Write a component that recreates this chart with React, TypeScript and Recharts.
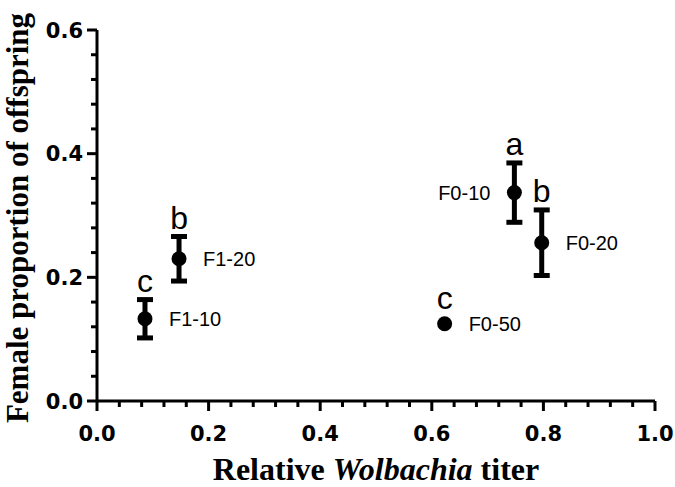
import React from 'react';
import { ScatterChart, Scatter, XAxis, YAxis, ErrorBar, Label } from 'recharts';

const groupNames = ['F1-10', 'F1-20', 'F0-10', 'F0-20', 'F0-50'];
const sigLetters = ['c', 'b', 'a', 'b', 'c'];
const titerValues = [0.086, 0.147, 0.748, 0.797, 0.623];
const femaleProportion = [0.133, 0.23, 0.337, 0.256, 0.125];
const errorValues: (number | null)[] = [0.031, 0.036, 0.048, 0.053, null];
const labelSide = ['right', 'right', 'left', 'right', 'right'];

const xMajorTicks = [0, 0.2, 0.4, 0.6, 0.8, 1.0];
const xAllTicks = [0, 0.04, 0.08, 0.12, 0.16, 0.2, 0.24, 0.28, 0.32, 0.36, 0.4, 0.44, 0.48, 0.52, 0.56, 0.6, 0.64, 0.68, 0.72, 0.76, 0.8, 0.84, 0.88, 0.92, 0.96, 1.0];
const yMajorTicks = [0, 0.2, 0.4, 0.6];
const yAllTicks = [0, 0.04, 0.08, 0.12, 0.16, 0.2, 0.24, 0.28, 0.32, 0.36, 0.4, 0.44, 0.48, 0.52, 0.56, 0.6];

const pointData = groupNames.map((name, i) => ({
  x: titerValues[i],
  y: femaleProportion[i],
  err: errorValues[i],
  name,
  side: labelSide[i],
}));

const letterData = groupNames.map((name, i) => ({
  x: titerValues[i],
  y: femaleProportion[i] + (errorValues[i] ?? 0),
  letter: sigLetters[i],
  hasErr: errorValues[i] != null,
}));

const TICK_FONT = 'DejaVu Sans';

const XTick = (props: any) => {
  const { x, y, payload } = props;
  const v = payload.value;
  const major = xMajorTicks.includes(v);
  return (
    <g>
      <line x1={x} x2={x} y1={y} y2={y + (major ? 10 : 6)} stroke="#000" strokeWidth={3} />
      {major && (
        <text x={x} y={y + 40} textAnchor="middle" fontFamily={TICK_FONT} fontWeight="bold" fontSize={21} fill="#000">
          {v.toFixed(1)}
        </text>
      )}
    </g>
  );
};

const YTick = (props: any) => {
  const { x, y, payload } = props;
  const v = payload.value;
  const major = yMajorTicks.includes(v);
  return (
    <g>
      <line x1={x} x2={x - (major ? 10 : 6)} y1={y} y2={y} stroke="#000" strokeWidth={3} />
      {major && (
        <text x={x - 14} y={y + 7.5} textAnchor="end" fontFamily={TICK_FONT} fontWeight="bold" fontSize={21} fill="#000">
          {v.toFixed(1)}
        </text>
      )}
    </g>
  );
};

const XTitle = (props: any) => {
  const { viewBox } = props;
  const cx = viewBox.x + viewBox.width / 2;
  return (
    <text x={cx} y={viewBox.y + 79} textAnchor="middle" fontFamily="Liberation Serif" fontWeight="bold" fontSize={32} fill="#000">
      {'Relative '}
      <tspan fontStyle="italic">Wolbachia</tspan>
      {' titer'}
    </text>
  );
};

const YTitle = (props: any) => {
  const { viewBox } = props;
  const cy = viewBox.y + viewBox.height / 2 + 2.5;
  const x = viewBox.x + 28;
  return (
    <text x={x} y={cy} transform={`rotate(-90, ${x}, ${cy})`} textAnchor="middle" fontFamily="Liberation Serif" fontWeight="bold" fontSize={31} fill="#000">
      Female proportion of offspring
    </text>
  );
};

const DotShape = (props: any) => {
  const { cx, cy, payload } = props;
  const left = payload.side === 'left';
  return (
    <g>
      <circle cx={cx} cy={cy} r={7.5} fill="#000" />
      <text
        x={left ? cx - 24 : cx + 24}
        y={cy + 7}
        textAnchor={left ? 'end' : 'start'}
        fontFamily="Liberation Sans"
        fontSize={20}
        fill="#000"
      >
        {payload.name}
      </text>
    </g>
  );
};

const LetterShape = (props: any) => {
  const { cx, cy, payload } = props;
  const lift = payload.hasErr ? 8 : 15;
  return (
    <text x={cx} y={cy - lift} textAnchor="middle" fontFamily="Liberation Sans" fontSize={32} fill="#000">
      {payload.letter}
    </text>
  );
};

export default function App() {
  return (
    <div style={{ position: 'absolute', left: 0, top: 0, background: '#fff' }}>
      <ScatterChart width={675} height={487} margin={{ top: 30, right: 20, bottom: 0, left: 0 }}>
        <XAxis
          type="number"
          dataKey="x"
          domain={[0, 1]}
          ticks={xAllTicks}
          interval={0}
          height={86}
          tickSize={0}
          tickMargin={0}
          tickLine={false}
          tick={<XTick />}
          axisLine={{ stroke: '#000', strokeWidth: 3 }}
          label={<Label content={<XTitle />} />}
        />
        <YAxis
          type="number"
          dataKey="y"
          domain={[0, 0.6]}
          ticks={yAllTicks}
          interval={0}
          width={97}
          tickSize={0}
          tickMargin={0}
          tickLine={false}
          tick={<YTick />}
          axisLine={{ stroke: '#000', strokeWidth: 3 }}
          label={<Label content={<YTitle />} />}
        />
        <Scatter data={pointData} shape={<DotShape />} isAnimationActive={false}>
          <ErrorBar dataKey="err" direction="y" width={8} strokeWidth={5} stroke="#000" isAnimationActive={false} />
        </Scatter>
        <Scatter data={letterData} shape={<LetterShape />} isAnimationActive={false} />
      </ScatterChart>
    </div>
  );
}
